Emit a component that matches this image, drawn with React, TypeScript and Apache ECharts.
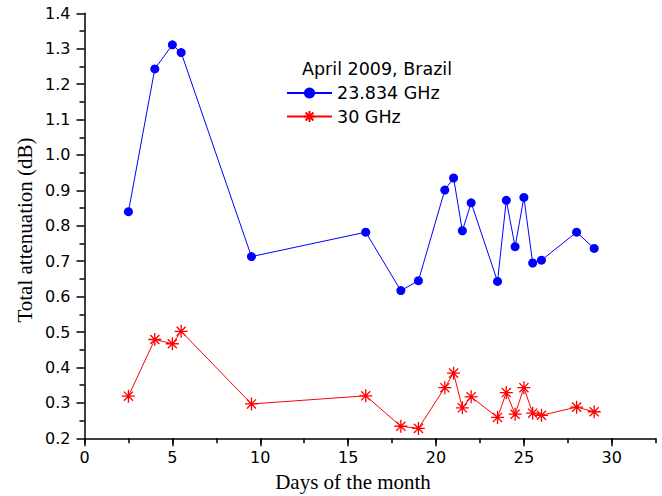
import React, { useEffect, useRef } from "react";
import * as echarts from "echarts";

const days = [2.5, 4, 5, 5.5, 9.5, 16, 18, 19, 20.5, 21, 21.5, 22, 23.5, 24, 24.5, 25, 25.5, 26, 28, 29];
const ghz23 = [0.84, 1.243, 1.311, 1.289, 0.713, 0.782, 0.617, 0.645, 0.901, 0.935, 0.786, 0.865, 0.643, 0.872, 0.741, 0.88, 0.695, 0.703, 0.782, 0.736];
const ghz30 = [0.319, 0.479, 0.467, 0.502, 0.297, 0.32, 0.234, 0.228, 0.343, 0.384, 0.286, 0.317, 0.259, 0.329, 0.268, 0.343, 0.271, 0.265, 0.288, 0.275];
const xMajorTicks = [0, 5, 10, 15, 20, 25, 30];
const series1Name = "23.834 GHz";
const series2Name = "30 GHz";
const legendTitle = "April 2009, Brazil";
const xTitle = "Days of the month";
const yTitle = "Total attenuation (dB)";

const STAR = "path://M0,5L10,5M5,0L5,10M1.5,1.5L8.5,8.5M8.5,1.5L1.5,8.5";
const SANS = "DejaVu Sans";
const SERIF = "Liberation Serif";

export default function App() {
  const ref = useRef<HTMLDivElement>(null);
  useEffect(() => {
    if (!ref.current) return;
    const chart = echarts.init(ref.current, undefined, { renderer: "svg" });
    const axisLine = { show: true, lineStyle: { color: "#000", width: 1.5 } };
    chart.setOption({
      animation: false,
      backgroundColor: "#fff",
      grid: { left: 84.5, right: 6.3, top: 13.3, bottom: 57.7, containLabel: false },
      title: {
        text: legendTitle,
        left: 297,
        top: 55,
        textStyle: { fontFamily: SANS, fontSize: 17.5, fontWeight: "normal", color: "#000" },
      },
      legend: {
        orient: "vertical",
        left: 281,
        top: 79,
        itemWidth: 45,
        itemHeight: 14,
        itemGap: 5.5,
        textStyle: { fontFamily: SANS, fontSize: 17.5, color: "#000" },
        data: [series1Name, series2Name],
      },
      xAxis: [
        {
          type: "value",
          min: 0,
          max: 32.5,
          interval: 2.5,
          axisLine,
          splitLine: { show: false },
          axisTick: { show: true, inside: false, length: 5, lineStyle: { color: "#000", width: 1.5 } },
          axisLabel: {
            margin: 11,
            fontFamily: SANS,
            fontSize: 16,
            color: "#000",
            formatter: (v: number) => (v % 5 === 0 && v <= 30 ? String(v) : ""),
          },
        },
        {
          type: "value",
          min: 0,
          max: 32.5,
          position: "bottom",
          axisLine: { show: false },
          splitLine: { show: false },
          axisLabel: { show: false },
          axisTick: {
            show: true,
            length: 8,
            customValues: xMajorTicks,
            lineStyle: { color: "#000", width: 1.5 },
          },
        },
      ],
      yAxis: {
        type: "value",
        min: 0.2,
        max: 1.4,
        interval: 0.1,
        axisLine,
        splitLine: { show: false },
        axisTick: { show: true, length: 8, lineStyle: { color: "#000", width: 1.5 } },
        minorTick: { show: true, splitNumber: 2, length: 5, lineStyle: { color: "#000", width: 1.5 } },
        minorSplitLine: { show: false },
        axisLabel: {
          margin: 14,
          fontFamily: SANS,
          fontSize: 16,
          color: "#000",
          formatter: (v: number) => v.toFixed(1),
        },
      },
      graphic: [
        {
          type: "text",
          x: 353,
          y: 482,
          style: {
            text: xTitle,
            fontFamily: SERIF,
            fontSize: 21,
            fill: "#000",
            textAlign: "center",
            textVerticalAlign: "middle",
          },
        },
        {
          type: "text",
          x: 25,
          y: 230,
          rotation: Math.PI / 2,
          style: {
            text: yTitle,
            fontFamily: SERIF,
            fontSize: 21,
            fill: "#000",
            textAlign: "center",
            textVerticalAlign: "middle",
          },
        },
      ],
      series: [
        {
          name: series1Name,
          type: "line",
          xAxisIndex: 0,
          data: days.map((d, i) => [d, ghz23[i]]),
          symbol: "circle",
          symbolSize: 9,
          lineStyle: { color: "#0000ff", width: 1 },
          itemStyle: { color: "#0000ff" },
        },
        {
          name: series2Name,
          type: "line",
          xAxisIndex: 0,
          data: days.map((d, i) => [d, ghz30[i]]),
          symbol: STAR,
          symbolSize: 13,
          lineStyle: { color: "#ff0000", width: 1 },
          itemStyle: { color: "#ff0000", borderColor: "#ff0000", borderWidth: 1.3 },
        },
      ],
    });
    return () => chart.dispose();
  }, []);
  return <div ref={ref} style={{ position: "fixed", left: 0, top: 0, width: 662, height: 496 }} />;
}
